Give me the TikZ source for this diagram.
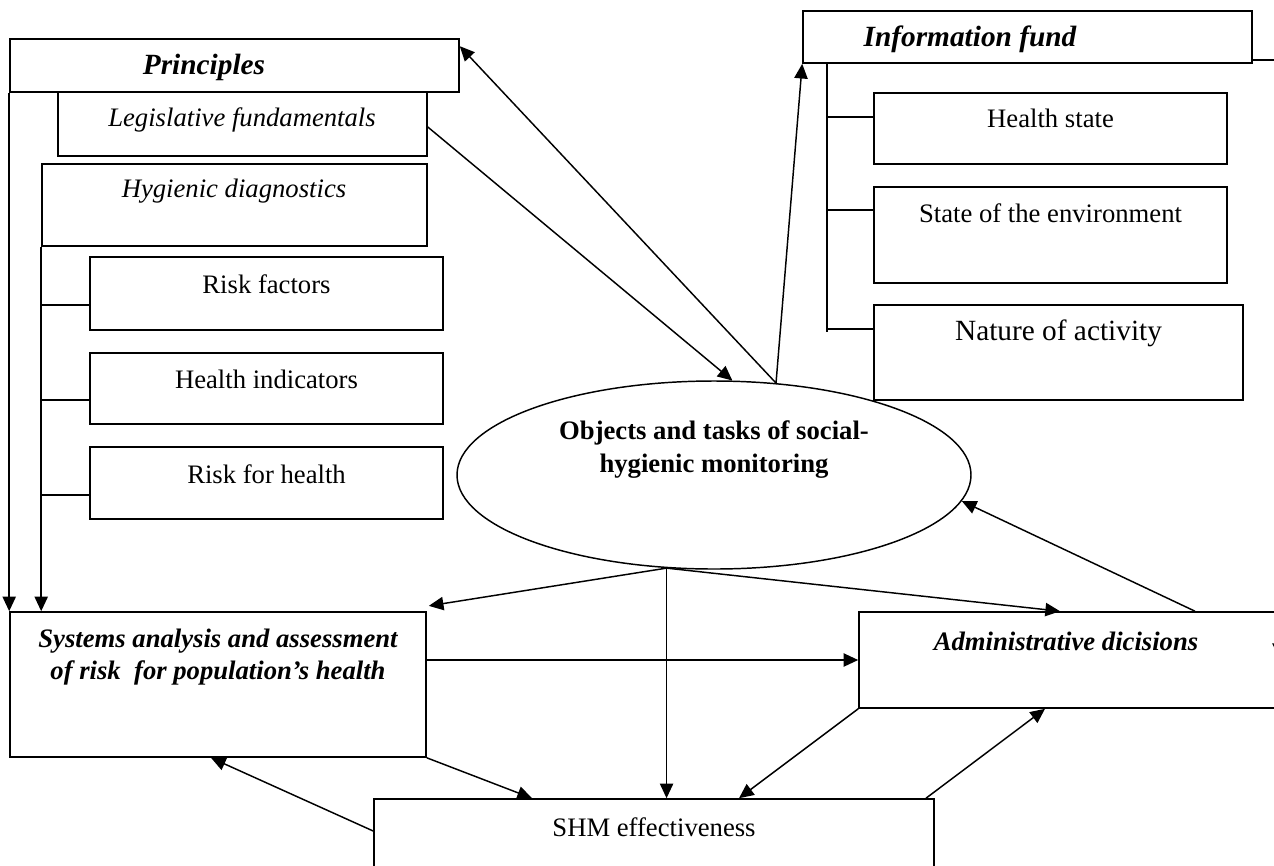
\documentclass[tikz,border=0pt]{standalone}
\usepackage{fontspec}
\setmainfont{Liberation Serif}
\usetikzlibrary{arrows.meta,shapes.geometric,fit}
\begin{document}
\begin{tikzpicture}[x=0.75pt,y=-0.75pt,
 box/.style={draw, line width=1.2pt, inner sep=0pt, rectangle},
 txt/.style={inner sep=0pt, align=center, font=\fontsize{20}{24}\selectfont},
 ttl/.style={inner sep=0pt, align=center, font=\fontsize{22}{26}\selectfont\bfseries\itshape},
 ln/.style={line width=1.1pt},
 arr/.style={line width=1.1pt,-{Triangle[length=11pt,width=10pt]}}]
\useasboundingbox (0,0) rectangle (1274,865);
\fill[white] (0,0) rectangle (1274,865);
\clip (0,0) rectangle (1274,865);

% left column
\node[box, fit={(10,39) (459,92)}] (pri) {};
\node[box, fit={(58,92) (427,156)}] (leg) {};
\node[box, fit={(42,164) (427,246)}] (hyg) {};
\node[box, fit={(90,257) (443,330)}] (rf) {};
\node[box, fit={(90,353) (443,424)}] (hi) {};
\node[box, fit={(90,447) (443,519)}] (rh) {};
\node[ttl] (priT) at (204,67) {Principles};
\node[txt, font=\fontsize{20}{24}\selectfont\itshape] (legT) at (242,119.5) {Legislative fundamentals};
\node[txt, font=\fontsize{20}{24}\selectfont\itshape] (hygT) at (234,191) {Hygienic diagnostics};
\node[txt] (rfT) at (266.5,284) {Risk factors};
\node[txt] (hiT) at (266.5,379) {Health indicators};
\node[txt] (rhT) at (266.5,474) {Risk for health};

% right column
\node[box, fit={(803,11) (1252,63)}] (inf) {};
\node[box, fit={(874,93) (1227,164)}] (hs) {};
\node[box, fit={(874,187) (1227,283)}] (se) {};
\node[box, fit={(874,305) (1243,400)}] (na) {};
\node[ttl] (infT) at (970,39) {Information fund};
\node[txt] (hsT) at (1050.5,118) {Health state};
\node[txt] (seT) at (1050.5,213) {State of the environment};
\node[txt, font=\fontsize{22}{26}\selectfont] (naT) at (1058.5,333) {Nature of activity};

% centre
\node[draw, ellipse, line width=1.1pt, inner sep=0pt, minimum width=385.5pt, minimum height=141pt] (obj) at (714,475) {};
\node[txt, font=\fontsize{20}{24.5}\selectfont\bfseries] (objT) at (714,449.5) {Objects and tasks of social-\\hygienic monitoring};

% bottom
\node[box, fit={(10,612) (426,757)}] (sys) {};
\node[box, fit={(859,612) (1290,708)}] (adm) {};
\node[box, fit={(374,799) (934,880)}] (shm) {};
\node[txt, font=\fontsize{20}{24}\selectfont\bfseries\itshape] (sysT) at (218,657) {Systems analysis and assessment\\of risk \ for population’s health};
\node[txt, font=\fontsize{20}{24}\selectfont\bfseries\itshape] (admT) at (1066,641) {Administrative dicisions};
\node[txt] (shmT) at (654,827) {SHM effectiveness};

% left tree
\draw[arr] (pri.south west) -- (sys.north west);
\draw[arr] (hyg.south west) -- (hyg.south west |- sys.north);
\draw[ln] (hyg.west |- 0,305) -- (rf.west |- 0,305);
\draw[ln] (hyg.west |- 0,400) -- (hi.west |- 0,400);
\draw[ln] (hyg.west |- 0,495) -- (rh.west |- 0,495);

% right tree
\draw[ln] (827,0 |- inf.south) -- (827,332);
\draw[ln] (827,117) -- (hs.west |- 0,117);
\draw[ln] (827,210) -- (se.west |- 0,210);
\draw[ln] (827,329) -- (na.west |- 0,329);
\draw[ln] (inf.east |- 0,60) -- (1290,60);

% connectors
\draw[arr] (leg.east |- 0,127) -- (obj.79);
\draw[arr] (obj.56) -- ([yshift=-6pt]pri.north east);
\draw[arr] (obj.56) -- (inf.south west);
\draw[arr] (obj.243) -- ([xshift=1.5pt,yshift=4pt]sys.north east);
\draw[arr] (obj.243) -- (obj.243 |- shm.north);
\draw[arr] (obj.243) -- (1060,0 |- adm.north);
\draw[arr] (sys.east |- 0,660) -- (adm.west |- 0,660);
\draw[arr] (1195,0 |- adm.north) -- (obj.354);
\draw[arr] (sys.south east) -- (532,0 |- shm.north);
\draw[arr] (shm.west |- 0,831) -- (211,0 |- sys.south);
\draw[arr] (adm.south west) -- (739,0 |- shm.north);
\draw[arr] (926,0 |- shm.north) -- (1045,0 |- adm.south);
\draw[arr] (1279,0 |- adm.north) -- (1279,658);
\end{tikzpicture}
\end{document}
